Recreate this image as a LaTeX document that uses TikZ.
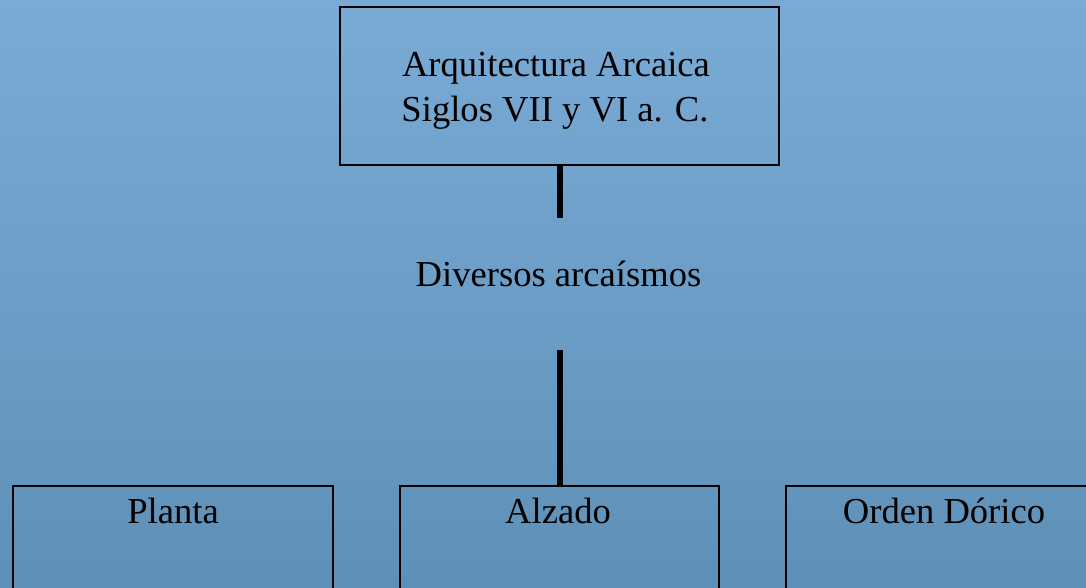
\documentclass[tikz,border=0pt]{standalone}
\usepackage{fontspec}
\setmainfont{Liberation Serif}
\definecolor{bgtop}{RGB}{122,171,214}
\definecolor{bgbot}{RGB}{94,144,183}
\tikzset{
  boxframe/.style={draw=black, line width=1.5pt, rectangle, inner sep=0pt},
  lbl/.style={font=\fontsize{36.6}{44}\selectfont, text=black, inner sep=0pt, anchor=base},
  conn/.style={draw=black, line width=6pt}
}
\begin{document}
\begin{tikzpicture}[x=1pt, y=-1pt]
\useasboundingbox (0,0) rectangle (1086,588);
\clip (0,0) rectangle (1086,588);
\shade[top color=bgtop, bottom color=bgbot] (0,0) rectangle (1086,588);
% top box
\node[boxframe, minimum width=439pt, minimum height=158pt] (top) at (559.5,86) {};
\node[lbl] (t1) at (556,77) {Arquitectura Arcaica};
\node[lbl] (t2) at (555,122) {Siglos VII y VI a. C.};
% middle text
\node[lbl] (mid) at (558.5,286) {Diversos arcaísmos};
% bottom boxes
\node[boxframe, minimum width=320pt, minimum height=160pt] (planta) at (173,566) {};
\node[boxframe, minimum width=319pt, minimum height=160pt] (alzado) at (559.5,566) {};
\node[boxframe, minimum width=320pt, minimum height=160pt] (orden) at (946,566) {};
\node[lbl] (pl) at (173,523) {Planta};
\node[lbl] (al) at (558,523) {Alzado};
\node[lbl] (od) at (944,523) {Orden Dórico};
% connectors
\coordinate (c1) at (560,218);
\coordinate (c2) at (559.5,350);
\draw[conn] (top.south -| c1) -- (c1);
\draw[conn] (c2) -- (alzado.north);
\end{tikzpicture}
\end{document}
